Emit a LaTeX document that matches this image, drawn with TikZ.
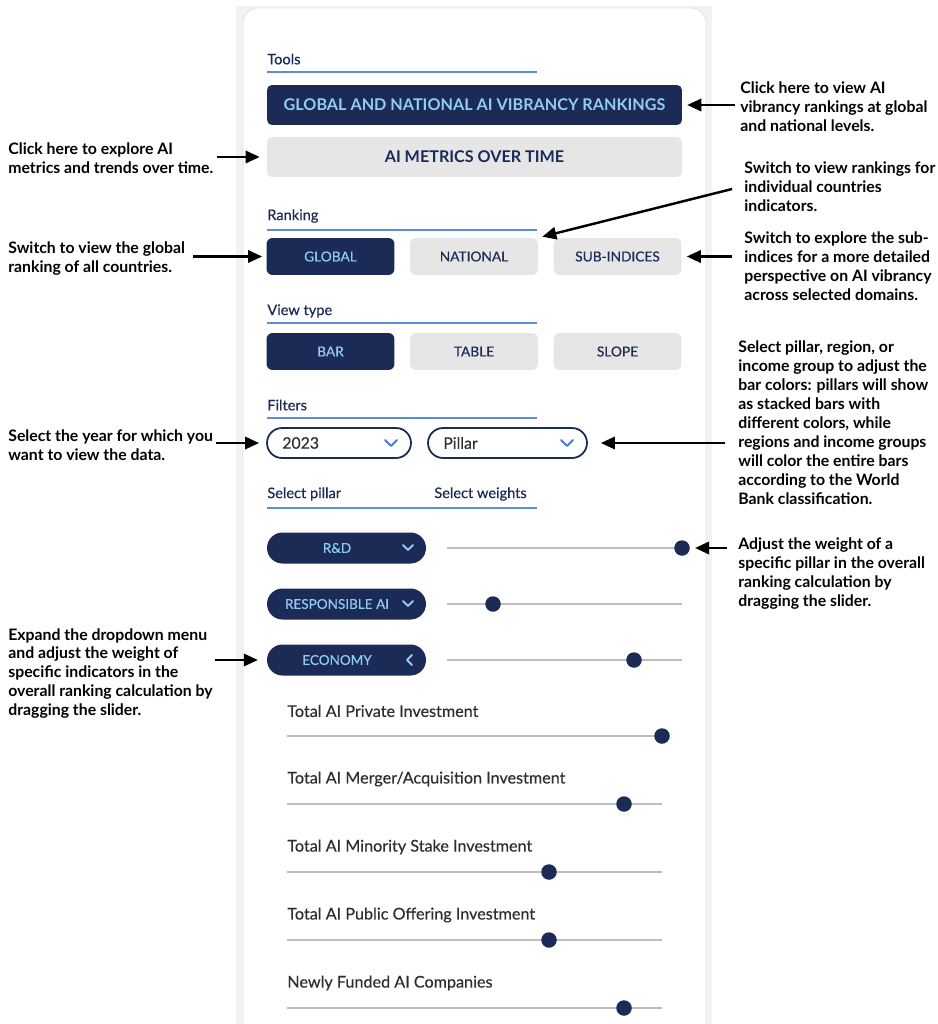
\documentclass[tikz,border=0pt]{standalone}
\usepackage{fontspec}
\setmainfont{Lato}
\newfontfamily\medfont[FakeBold=0.35]{Lato}
\usetikzlibrary{arrows.meta}
\definecolor{navy}{HTML}{1C2A56}
\definecolor{skyblue}{HTML}{8FCDF2}
\definecolor{lineblue}{HTML}{5A8ED8}
\definecolor{chevblue}{HTML}{3F7BE0}
\definecolor{btngray}{HTML}{E6E6E6}
\definecolor{bggray}{HTML}{F2F2F2}
\definecolor{cardline}{HTML}{E2E2E2}
\definecolor{trackgray}{HTML}{BDBDBD}
\definecolor{labelgray}{HTML}{2E2E2E}
\tikzset{
  note/.style={font=\bfseries\fontsize{9}{10.8}\selectfont, align=left, inner sep=0pt, anchor=west},
  arr/.style={-{Triangle[length=8pt,width=7pt]}, line width=1.4pt},
  head/.style={font=\medfont\fontsize{8.3}{10}\selectfont, text=navy, anchor=west, inner sep=0pt},
  uline/.style={draw=lineblue, line width=0.8pt},
  bigbtn/.style={rounded corners=0.1cm, minimum width=8.3cm, minimum height=0.8cm, font=\bfseries\fontsize{9.2}{10}\selectfont},
  tabbtn/.style={rounded corners=0.12cm, minimum width=2.56cm, minimum height=0.74cm, font=\medfont\fontsize{7.8}{9}\selectfont},
  selbtn/.style={fill=navy, text=skyblue},
  plainbtn/.style={fill=btngray, text=navy},
  dropbox/.style={draw=navy, line width=1pt, fill=white, rounded corners=0.3cm, minimum height=0.6cm},
  droptext/.style={font=\medfont\fontsize{9}{10}\selectfont, text=labelgray, anchor=west, inner sep=0pt},
  pill/.style={fill=navy, rounded corners=0.31cm, minimum width=3.18cm, minimum height=0.62cm},
  pilltext/.style={font=\medfont\fontsize{7.7}{9}\selectfont, text=skyblue, inner sep=0pt},
  chev/.style={draw=chevblue, line width=1.1pt, line cap=round, line join=round},
  pchev/.style={draw=skyblue, line width=1.1pt, line cap=round, line join=round},
  track/.style={draw=trackgray, line width=1.1pt},
  knob/.style={circle, fill=navy, minimum size=0.31cm, inner sep=0pt},
  indlabel/.style={font=\medfont\fontsize{9.2}{11}\selectfont, text=labelgray, anchor=west, inner sep=0pt}
}
\begin{document}
\begin{tikzpicture}[x=0.02cm, y=-0.02cm]
\useasboundingbox (0,0) rectangle (937,1024);
\fill[bggray] (236,6) rectangle (712,1024);
\draw[cardline, fill=white, rounded corners=0.3cm] (243,1040) -- (243,8) -- (706,8) -- (706,1040);

\node[head] (tools) at (267,59) {Tools};
\draw[uline] (267,72) -- (537,72);
\node[bigbtn, selbtn] (vibr) at (474.5,105) {GLOBAL AND NATIONAL AI VIBRANCY RANKINGS};
\node[bigbtn, plainbtn] (metr) at (474.5,157) {AI METRICS OVER TIME};

\node[head] (ranking) at (267,216) {Ranking};
\draw[uline] (267,230) -- (537,230);
\node[tabbtn, selbtn] (glob) at (330.5,256.5) {GLOBAL};
\node[tabbtn, plainbtn] (natl) at (474,256.5) {NATIONAL};
\node[tabbtn, plainbtn] (subi) at (617.5,256.5) {SUB-INDICES};

\node[head] (viewtype) at (267,311) {View type};
\draw[uline] (267,323) -- (537,323);
\node[tabbtn, selbtn] (bar) at (330.5,351.5) {BAR};
\node[tabbtn, plainbtn] (table) at (474,351.5) {TABLE};
\node[tabbtn, plainbtn] (slope) at (617.5,351.5) {SLOPE};

\node[head] (filters) at (267,405) {Filters};
\draw[uline] (267,418) -- (537,418);
\node[dropbox, minimum width=2.88cm] (year) at (339,443) {};
\node[droptext] (yeart) at (282,443) {2023};
\draw[chev] (385,440) -- (391,446) -- (397,440);
\node[dropbox, minimum width=3.18cm] (pillar) at (507.5,443) {};
\node[droptext] (pillart) at (443,443) {Pillar};
\draw[chev] (561,440) -- (567,446) -- (573,440);

\node[head] (selpillar) at (267,494) {Select pillar};
\node[head] (selweights) at (434,494) {Select weights};
\draw[uline] (267,508) -- (537,508);

\foreach \y/\lbl/\kx in {548/R\&D/682, 604/RESPONSIBLE AI/493, 660/ECONOMY/634}{
  \node[pill] (pill\y) at (346.5,\y) {};
  \node[pilltext] (pillt\y) at (337,\y) {\lbl};
  \draw[track] (447,\y) -- (682,\y);
  \node[knob] (knob\y) at (\kx,\y) {};
}
\draw[pchev] (403,545) -- (408,550) -- (413,545);
\draw[pchev] (403,601) -- (408,606) -- (413,601);
\draw[pchev] (412,655) -- (407,660) -- (412,665);

\foreach \i/\lbl/\kx in {0/Total AI Private Investment/662, 1/{Total AI Merger/Acquisition Investment}/624, 2/Total AI Minority Stake Investment/549, 3/Total AI Public Offering Investment/549, 4/Newly Funded AI Companies/624}{
  \node[indlabel] (ind\i) at (287,711+68*\i) {\lbl};
  \draw[track] (287,736+68*\i) -- (662,736+68*\i);
  \node[knob] (indk\i) at (\kx,736+68*\i) {};
}

\node[note] (n1) at (8,158.5) {Click here to explore AI\\metrics and trends over time.};
\node[note] (n2) at (8,258.5) {Switch to view the global\\ranking of all countries.};
\node[note] (n3) at (8,445.5) {Select the year for which you\\want to view the data.};
\node[note] (n4) at (8,673.5) {Expand the dropdown menu\\and adjust the weight of\\specific indicators in the\\overall ranking calculation by\\dragging the slider.};
\node[note] (r1) at (740,106.5) {Click here to view AI\\vibrancy rankings at global\\and national levels.};
\node[note] (r2) at (744,187) {Switch to view rankings for\\individual countries\\indicators.};
\node[note] (r3) at (744,266.5) {Switch to explore the sub-\\indices for a more detailed\\perspective on AI vibrancy\\across selected domains.};
\node[note] (r4) at (738,423) {Select pillar, region, or\\income group to adjust the\\bar colors: pillars will show\\as stacked bars with\\different colors, while\\regions and income groups\\will color the entire bars\\according to the World\\Bank classification.};
\node[note] (r5) at (738,573.5) {Adjust the weight of a\\specific pillar in the overall\\ranking calculation by\\dragging the slider.};

\draw[arr, shorten <=1.7pt, shorten >=4pt] (metr.west -| n1.east) -- (metr.west);
\draw[arr, shorten <=4.5pt, shorten >=2.3pt] (glob.west -| n2.east) -- (glob.west);
\draw[arr, shorten <=1.7pt, shorten >=4pt] (year.west -| n3.east) -- (year.west);
\draw[arr, shorten <=1pt, shorten >=5pt] (pill660.west -| n4.east) -- (pill660.west);
\draw[arr, shorten <=3pt, shorten >=2.8pt] (vibr.east -| r1.west) -- (vibr.east);
\draw[arr, shorten <=7pt, shorten >=2.3pt] ([yshift=0.02cm]r2.west) -- (natl.north east);
\draw[arr, shorten <=7pt, shorten >=2.8pt] (subi.east -| r3.west) -- (subi.east);
\draw[arr, shorten <=7.4pt, shorten >=7.4pt] (pillar.east -| r4.west) -- (pillar.east);
\draw[arr, shorten <=6pt, shorten >=2.8pt] (knob548.east -| r5.west) -- (knob548.east);
\end{tikzpicture}
\end{document}
